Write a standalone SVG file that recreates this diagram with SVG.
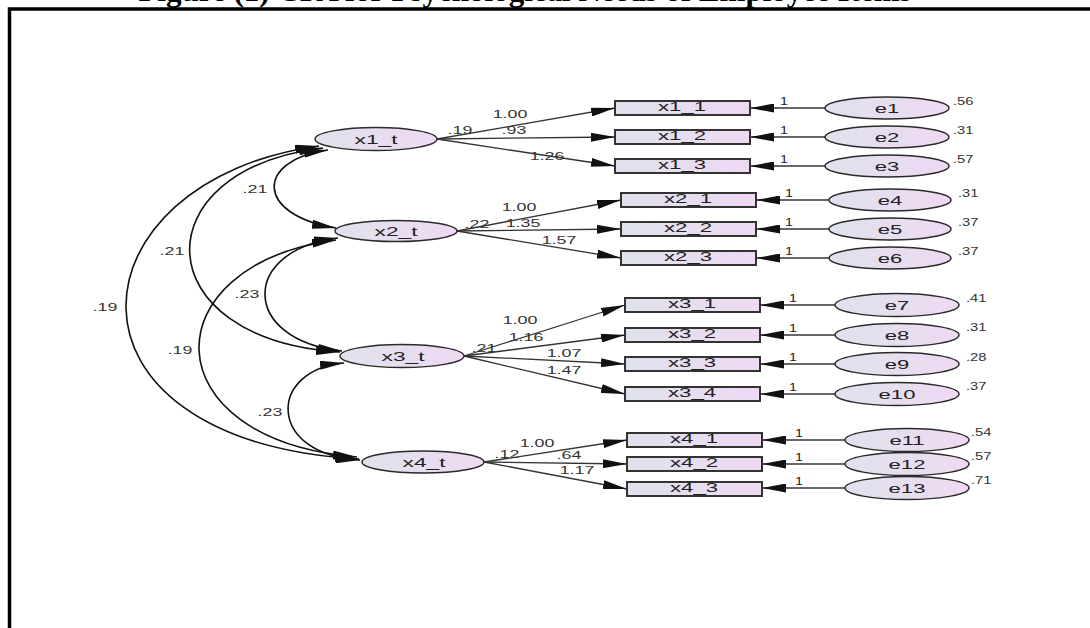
<svg xmlns="http://www.w3.org/2000/svg" width="1090" height="628" viewBox="0 0 1090 628">
<style>
.lat{fill:url(#gr);stroke:#2a2a2a;stroke-width:1.5}
.obs{fill:url(#gr);stroke:#333;stroke-width:2}
.ln{fill:none;stroke:#333;stroke-width:1.3}
.cv{fill:none;stroke:#111;stroke-width:1.6}
text{font-family:"Liberation Sans",Arial,sans-serif;fill:#222}
.lbl{font-size:13px;text-anchor:middle}
.rl{font-size:12px;text-anchor:middle}
.num{font-size:10.5px;text-anchor:middle;fill:#333}
.var{font-size:10.5px;fill:#333}
.one{font-size:11px;fill:#222}
.title{font-family:"Liberation Serif","Times New Roman",serif;font-weight:bold;font-size:31px;text-anchor:middle;fill:#000}
</style>
<defs>
<linearGradient id="gr" x1="0" y1="0" x2="1" y2="0">
<stop offset="0" stop-color="#dfe2ec"/>
<stop offset="1" stop-color="#efd9f3"/>
</linearGradient>
<marker id="ah" viewBox="0 0 24 9" refX="24" refY="4.5" markerWidth="24" markerHeight="9" markerUnits="userSpaceOnUse" orient="auto-start-reverse">
<path d="M0,0 L24,4.5 L0,9 z" fill="#111"/>
</marker>
</defs>
<rect width="1090" height="628" fill="#fff"/>
<text class="title" x="525" y="1">Figure (1) CFA for Psychological Needs of Employee Items</text>
<path d="M9.5 628 V9 H1090" fill="none" stroke="#000" stroke-width="3.5"/>

<g id="connectors">
<path class="cv" d="M319 146 C70 180,40 440,359 459" marker-start="url(#ah)" marker-end="url(#ah)"/>
<path class="cv" d="M323 148 C140 170,145 340,340 352" marker-start="url(#ah)" marker-end="url(#ah)"/>
<path class="cv" d="M328 150 C255 160,255 215,336 228" marker-start="url(#ah)" marker-end="url(#ah)"/>
<path class="cv" d="M338 238 C240 250,240 340,342 351" marker-start="url(#ah)" marker-end="url(#ah)"/>
<path class="cv" d="M336 240 C150 265,150 440,357 457" marker-start="url(#ah)" marker-end="url(#ah)"/>
<path class="cv" d="M344 363 C267 370,267 455,360 460" marker-start="url(#ah)" marker-end="url(#ah)"/>
<path class="ln" d="M437 139 L615 108" marker-end="url(#ah)"/>
<path class="ln" d="M437 139 L615 137" marker-end="url(#ah)"/>
<path class="ln" d="M437 139 L615 166" marker-end="url(#ah)"/>
<path class="ln" d="M457 231 L621 200" marker-end="url(#ah)"/>
<path class="ln" d="M457 231 L621 229" marker-end="url(#ah)"/>
<path class="ln" d="M457 231 L621 258" marker-end="url(#ah)"/>
<path class="ln" d="M464 356 L625 305" marker-end="url(#ah)"/>
<path class="ln" d="M464 356 L625 335" marker-end="url(#ah)"/>
<path class="ln" d="M464 356 L625 364" marker-end="url(#ah)"/>
<path class="ln" d="M464 356 L625 394" marker-end="url(#ah)"/>
<path class="ln" d="M484 462 L627 440" marker-end="url(#ah)"/>
<path class="ln" d="M484 462 L627 464" marker-end="url(#ah)"/>
<path class="ln" d="M484 462 L627 489" marker-end="url(#ah)"/>
<path class="ln" d="M825 108 H750" marker-end="url(#ah)"/>
<path class="ln" d="M825 137 H750" marker-end="url(#ah)"/>
<path class="ln" d="M825 166 H750" marker-end="url(#ah)"/>
<path class="ln" d="M829 200 H756" marker-end="url(#ah)"/>
<path class="ln" d="M829 229 H756" marker-end="url(#ah)"/>
<path class="ln" d="M829 258 H756" marker-end="url(#ah)"/>
<path class="ln" d="M835 305 H760" marker-end="url(#ah)"/>
<path class="ln" d="M835 335 H760" marker-end="url(#ah)"/>
<path class="ln" d="M835 364 H760" marker-end="url(#ah)"/>
<path class="ln" d="M835 394 H760" marker-end="url(#ah)"/>
<path class="ln" d="M845 440 H762" marker-end="url(#ah)"/>
<path class="ln" d="M845 464 H762" marker-end="url(#ah)"/>
<path class="ln" d="M845 488 H762" marker-end="url(#ah)"/>
<text class="num" transform="translate(255 193) scale(1.7 1)">.21</text>
<text class="num" transform="translate(172 255) scale(1.7 1)">.21</text>
<text class="num" transform="translate(105 311) scale(1.7 1)">.19</text>
<text class="num" transform="translate(247 298) scale(1.7 1)">.23</text>
<text class="num" transform="translate(180 354) scale(1.7 1)">.19</text>
<text class="num" transform="translate(270 416) scale(1.7 1)">.23</text>
<text class="num" transform="translate(510 118) scale(1.7 1)">1.00</text>
<text class="num" transform="translate(514 134) scale(1.7 1)">.93</text>
<text class="num" transform="translate(547 160) scale(1.7 1)">1.26</text>
<text class="num" transform="translate(460 134) scale(1.7 1)">.19</text>
<text class="num" transform="translate(519 211) scale(1.7 1)">1.00</text>
<text class="num" transform="translate(477 228) scale(1.7 1)">.22</text>
<text class="num" transform="translate(523 227) scale(1.7 1)">1.35</text>
<text class="num" transform="translate(559 244) scale(1.7 1)">1.57</text>
<text class="num" transform="translate(520 324) scale(1.7 1)">1.00</text>
<text class="num" transform="translate(526 341) scale(1.7 1)">1.16</text>
<text class="num" transform="translate(484 352) scale(1.7 1)">.21</text>
<text class="num" transform="translate(564 357) scale(1.7 1)">1.07</text>
<text class="num" transform="translate(564 374) scale(1.7 1)">1.47</text>
<text class="num" transform="translate(537 447) scale(1.7 1)">1.00</text>
<text class="num" transform="translate(507 458) scale(1.7 1)">.12</text>
<text class="num" transform="translate(569 459) scale(1.7 1)">.64</text>
<text class="num" transform="translate(577 474) scale(1.7 1)">1.17</text>
<text class="one" transform="translate(780 105) scale(1.3 1)">1</text>
<text class="one" transform="translate(780 134) scale(1.3 1)">1</text>
<text class="one" transform="translate(780 163) scale(1.3 1)">1</text>
<text class="one" transform="translate(785 197) scale(1.3 1)">1</text>
<text class="one" transform="translate(785 226) scale(1.3 1)">1</text>
<text class="one" transform="translate(785 255) scale(1.3 1)">1</text>
<text class="one" transform="translate(789 302) scale(1.3 1)">1</text>
<text class="one" transform="translate(789 332) scale(1.3 1)">1</text>
<text class="one" transform="translate(789 361) scale(1.3 1)">1</text>
<text class="one" transform="translate(789 391) scale(1.3 1)">1</text>
<text class="one" transform="translate(795 437) scale(1.3 1)">1</text>
<text class="one" transform="translate(795 461) scale(1.3 1)">1</text>
<text class="one" transform="translate(795 485) scale(1.3 1)">1</text>
</g>

<g id="x1_t"><ellipse class="lat" cx="376" cy="139" rx="61" ry="11.5"/><text class="lbl" transform="translate(376 143.5) scale(1.75 1)">x1_t</text></g>
<g id="x2_t"><ellipse class="lat" cx="396" cy="231" rx="61" ry="10.5"/><text class="lbl" transform="translate(396 235.5) scale(1.75 1)">x2_t</text></g>
<g id="x3_t"><ellipse class="lat" cx="402" cy="356" rx="62" ry="11.5"/><text class="lbl" transform="translate(403 360.5) scale(1.75 1)">x3_t</text></g>
<g id="x4_t"><ellipse class="lat" cx="423" cy="462" rx="61" ry="11"/><text class="lbl" transform="translate(424 466.5) scale(1.75 1)">x4_t</text></g>

<g id="x1_1"><rect class="obs" x="615" y="101" width="135" height="14"/><text class="rl" transform="translate(682 110.5) scale(1.85 1)">x1_1</text></g>
<g id="x1_2"><rect class="obs" x="615" y="130" width="135" height="14"/><text class="rl" transform="translate(682 139.5) scale(1.85 1)">x1_2</text></g>
<g id="x1_3"><rect class="obs" x="615" y="159" width="135" height="14"/><text class="rl" transform="translate(682 168.5) scale(1.85 1)">x1_3</text></g>
<g id="x2_1"><rect class="obs" x="621" y="193" width="135" height="14"/><text class="rl" transform="translate(688 202.5) scale(1.85 1)">x2_1</text></g>
<g id="x2_2"><rect class="obs" x="621" y="222" width="135" height="14"/><text class="rl" transform="translate(688 231.5) scale(1.85 1)">x2_2</text></g>
<g id="x2_3"><rect class="obs" x="621" y="251" width="135" height="14"/><text class="rl" transform="translate(688 260.5) scale(1.85 1)">x2_3</text></g>
<g id="x3_1"><rect class="obs" x="625" y="298" width="135" height="14"/><text class="rl" transform="translate(692 307.5) scale(1.85 1)">x3_1</text></g>
<g id="x3_2"><rect class="obs" x="625" y="328" width="135" height="14"/><text class="rl" transform="translate(692 337.5) scale(1.85 1)">x3_2</text></g>
<g id="x3_3"><rect class="obs" x="625" y="357" width="135" height="14"/><text class="rl" transform="translate(692 366.5) scale(1.85 1)">x3_3</text></g>
<g id="x3_4"><rect class="obs" x="625" y="387" width="135" height="14"/><text class="rl" transform="translate(692 396.5) scale(1.85 1)">x3_4</text></g>
<g id="x4_1"><rect class="obs" x="627" y="433" width="135" height="14"/><text class="rl" transform="translate(694 442.5) scale(1.85 1)">x4_1</text></g>
<g id="x4_2"><rect class="obs" x="627" y="457" width="135" height="14"/><text class="rl" transform="translate(694 466.5) scale(1.85 1)">x4_2</text></g>
<g id="x4_3"><rect class="obs" x="627" y="482" width="135" height="14"/><text class="rl" transform="translate(694 491.5) scale(1.85 1)">x4_3</text></g>

<g id="e1"><ellipse class="lat" cx="887" cy="108" rx="62" ry="11"/><text class="lbl" transform="translate(887 112.5) scale(1.7 1)">e1</text><text class="var" transform="translate(953 105) scale(1.4 1)">.56</text></g>
<g id="e2"><ellipse class="lat" cx="887" cy="137" rx="62" ry="11"/><text class="lbl" transform="translate(887 141.5) scale(1.7 1)">e2</text><text class="var" transform="translate(953 134) scale(1.4 1)">.31</text></g>
<g id="e3"><ellipse class="lat" cx="887" cy="166" rx="62" ry="11"/><text class="lbl" transform="translate(887 170.5) scale(1.7 1)">e3</text><text class="var" transform="translate(953 163) scale(1.4 1)">.57</text></g>
<g id="e4"><ellipse class="lat" cx="890" cy="200" rx="61" ry="11"/><text class="lbl" transform="translate(890 204.5) scale(1.7 1)">e4</text><text class="var" transform="translate(958 197) scale(1.4 1)">.31</text></g>
<g id="e5"><ellipse class="lat" cx="890" cy="229" rx="61" ry="11"/><text class="lbl" transform="translate(890 233.5) scale(1.7 1)">e5</text><text class="var" transform="translate(958 226) scale(1.4 1)">.37</text></g>
<g id="e6"><ellipse class="lat" cx="890" cy="258" rx="61" ry="11"/><text class="lbl" transform="translate(890 262.5) scale(1.7 1)">e6</text><text class="var" transform="translate(958 255) scale(1.4 1)">.37</text></g>
<g id="e7"><ellipse class="lat" cx="897" cy="305" rx="62" ry="11.5"/><text class="lbl" transform="translate(897 309.5) scale(1.7 1)">e7</text><text class="var" transform="translate(966 302) scale(1.4 1)">.41</text></g>
<g id="e8"><ellipse class="lat" cx="897" cy="335" rx="62" ry="11.5"/><text class="lbl" transform="translate(897 339.5) scale(1.7 1)">e8</text><text class="var" transform="translate(966 331) scale(1.4 1)">.31</text></g>
<g id="e9"><ellipse class="lat" cx="897" cy="364" rx="62" ry="11.5"/><text class="lbl" transform="translate(897 368.5) scale(1.7 1)">e9</text><text class="var" transform="translate(966 361) scale(1.4 1)">.28</text></g>
<g id="e10"><ellipse class="lat" cx="897" cy="394" rx="62" ry="11.5"/><text class="lbl" transform="translate(897 398.5) scale(1.7 1)">e10</text><text class="var" transform="translate(966 390) scale(1.4 1)">.37</text></g>
<g id="e11"><ellipse class="lat" cx="907" cy="440" rx="62" ry="11.5"/><text class="lbl" transform="translate(907 444.5) scale(1.7 1)">e11</text><text class="var" transform="translate(971 436) scale(1.4 1)">.54</text></g>
<g id="e12"><ellipse class="lat" cx="907" cy="464" rx="62" ry="11.5"/><text class="lbl" transform="translate(907 468.5) scale(1.7 1)">e12</text><text class="var" transform="translate(971 460) scale(1.4 1)">.57</text></g>
<g id="e13"><ellipse class="lat" cx="907" cy="488" rx="62" ry="11.5"/><text class="lbl" transform="translate(907 492.5) scale(1.7 1)">e13</text><text class="var" transform="translate(971 484) scale(1.4 1)">.71</text></g>
</svg>
